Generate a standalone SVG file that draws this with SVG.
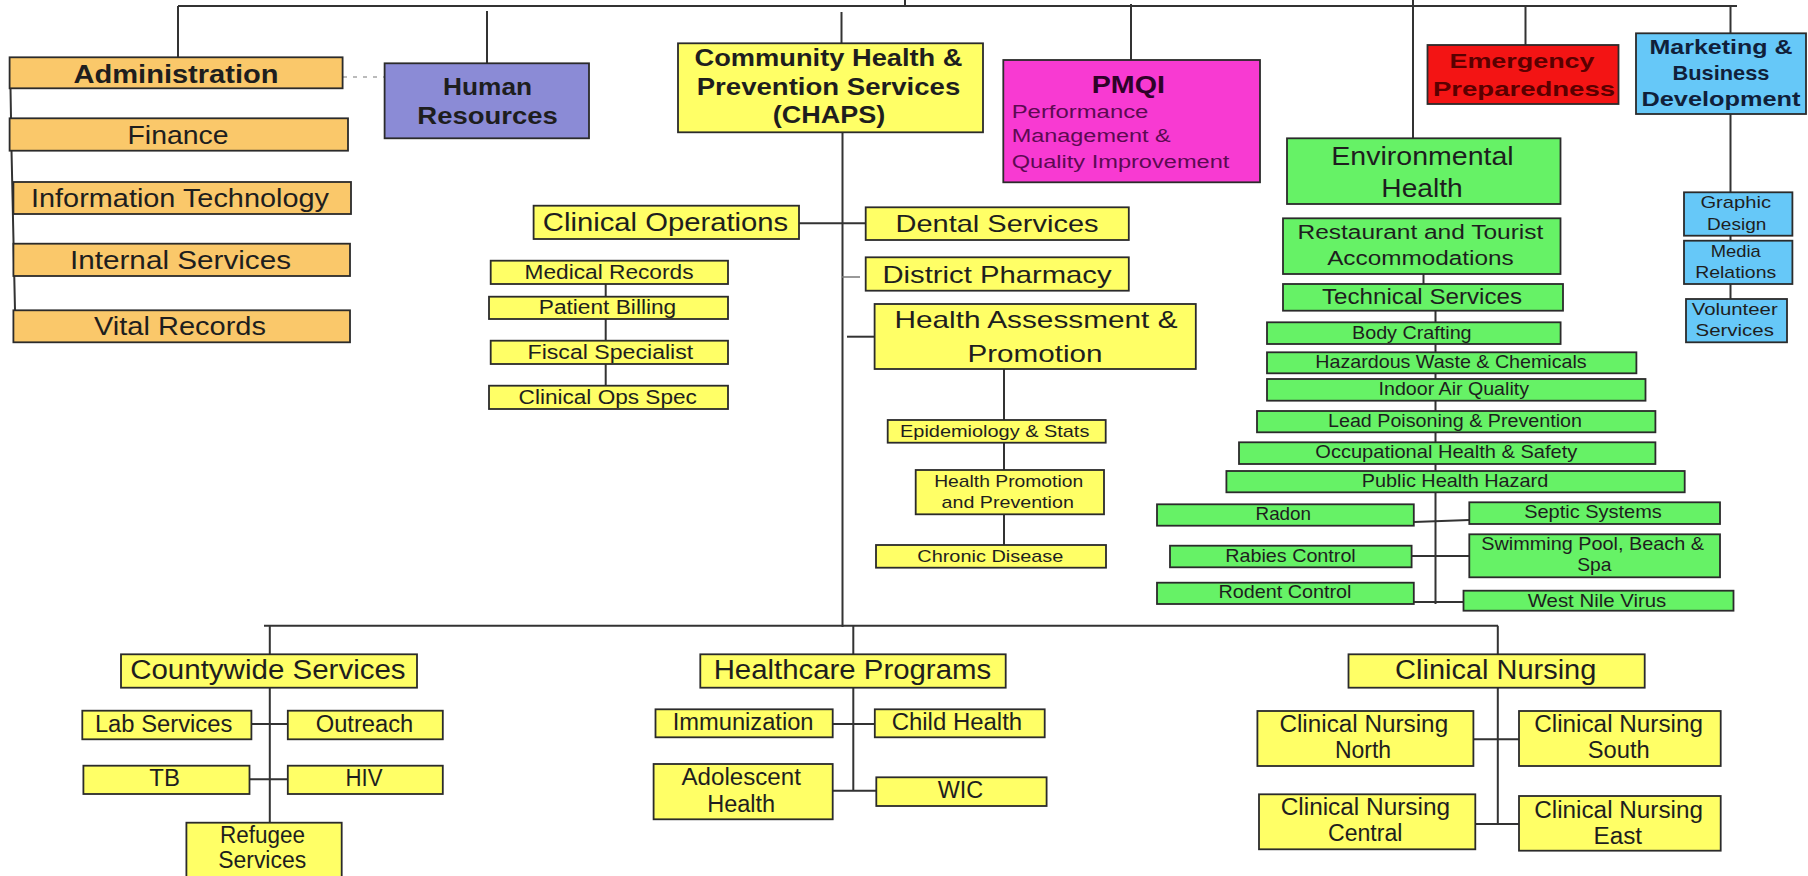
<svg xmlns="http://www.w3.org/2000/svg" width="1808" height="876" viewBox="0 0 1808 876">
<style>
rect{stroke:#2b2b2b;stroke-width:1.8}
.or{fill:#fac86a}.pu{fill:#8b8bd6}.ye{fill:#ffff66}.mg{fill:#f83ad2}.rd{fill:#f31414}.bl{fill:#66c8f8}.gr{fill:#66f266}
text{font-family:"Liberation Sans",Arial,Helvetica,sans-serif;fill:#1e1e1e;text-anchor:middle}
.b{font-weight:bold}
.c line,.c path,.c polyline{stroke:#333;stroke-width:2;fill:none}
</style>
<rect x="0" y="0" width="1808" height="876" fill="#ffffff" style="stroke:none"/>
<g class="c" id="connectors">
<path d="M178,6 H1737"/>
<path d="M905,0 V7"/>
<path d="M178,6 V57"/>
<path d="M487,11 V63"/>
<path d="M841.5,12 V43"/>
<path d="M842.5,132 V627"/>
<path d="M1131,4 V60"/>
<path d="M1413,0 V138"/>
<path d="M1525.5,5 V45"/>
<path d="M1730.5,5 V33"/>
<path d="M1730.5,114 V299"/>
<polyline points="10.5,88 11,118 11.5,150 15,310"/>
<path d="M343,77 H384" style="stroke:#bbbbbb;stroke-width:2;stroke-dasharray:4 6"/>
<path d="M799,223.3 H865.7"/>
<path d="M842,277 H860" style="stroke:#777;stroke-width:1.5"/>
<path d="M847,336.7 H874.6"/>
<path d="M605.7,284 V385.7"/>
<path d="M1004,369 V545"/>
<path d="M1423.5,274 V284"/>
<path d="M1435.5,310.7 V604"/>
<path d="M1413.8,522 L1469.3,520"/>
<path d="M1411.6,556 H1469.3"/>
<path d="M1413.8,602 H1463.5"/>
<path d="M264,625.7 H1498"/>
<path d="M269.8,625.7 V654.3 M269.8,687.7 V822.7"/>
<path d="M251.4,724 H287.8 M249.5,779.3 H287.8"/>
<path d="M853.3,625.7 V654.3 M853.3,687.7 V790.7 M832.7,724 H874.8 M832.7,790.7 H876.3"/>
<path d="M1497.8,625.7 V654.3 M1497.8,687.7 V824 M1473.4,739.3 H1519 M1475.3,824 H1519"/>
</g>

<g id="administration"><rect class="or" x="9.6" y="57.3" width="333" height="31"/><text class="b" x="176" y="83" font-size="25.5" textLength="205" lengthAdjust="spacingAndGlyphs">Administration</text></g>
<g id="finance"><rect class="or" x="9.6" y="118.3" width="338.4" height="32.4"/><text x="178" y="144" font-size="25.5" textLength="101" lengthAdjust="spacingAndGlyphs">Finance</text></g>
<g id="it"><rect class="or" x="13.4" y="182" width="337.6" height="32"/><text x="180" y="207" font-size="25.5" textLength="298" lengthAdjust="spacingAndGlyphs">Information Technology</text></g>
<g id="internal"><rect class="or" x="13.4" y="243.7" width="336.6" height="32.3"/><text x="180.5" y="269" font-size="25.5" textLength="221" lengthAdjust="spacingAndGlyphs">Internal Services</text></g>
<g id="vital"><rect class="or" x="13.4" y="310.3" width="336.6" height="32"/><text x="180" y="335" font-size="25.5" textLength="172" lengthAdjust="spacingAndGlyphs">Vital Records</text></g>

<g id="hr"><rect class="pu" x="384.6" y="63.3" width="204.4" height="75"/><text class="b" x="487.6" y="95" font-size="24.5" textLength="89" lengthAdjust="spacingAndGlyphs">Human</text><text class="b" x="487.6" y="124" font-size="24.5" textLength="140.5" lengthAdjust="spacingAndGlyphs">Resources</text></g>

<g id="chaps"><rect class="ye" x="678" y="43.3" width="305" height="89"/><text class="b" x="828.5" y="66" font-size="24" textLength="268" lengthAdjust="spacingAndGlyphs">Community Health &amp;</text><text class="b" x="828.5" y="95" font-size="24" textLength="263.6" lengthAdjust="spacingAndGlyphs">Prevention Services</text><text class="b" x="829" y="122.5" font-size="24" textLength="112.5" lengthAdjust="spacingAndGlyphs">(CHAPS)</text></g>

<g id="pmqi"><rect class="mg" x="1003.3" y="60" width="256.7" height="122.3"/><text class="b" x="1128.3" y="93.3" font-size="24" textLength="73.3" lengthAdjust="spacingAndGlyphs" style="fill:#2e0228">PMQI</text><text x="1011.7" y="118.3" font-size="17.5" textLength="136.7" lengthAdjust="spacingAndGlyphs" style="fill:#5c0a52;text-anchor:start">Performance</text><text x="1011.7" y="141.7" font-size="17.5" textLength="159" lengthAdjust="spacingAndGlyphs" style="fill:#5c0a52;text-anchor:start">Management &amp;</text><text x="1011.7" y="167.5" font-size="17.5" textLength="217.7" lengthAdjust="spacingAndGlyphs" style="fill:#5c0a52;text-anchor:start">Quality Improvement</text></g>

<g id="emergency"><rect class="rd" x="1427.5" y="45" width="191" height="59"/><text class="b" x="1522" y="68" font-size="21" textLength="145" lengthAdjust="spacingAndGlyphs" style="fill:#5a0000">Emergency</text><text class="b" x="1524" y="95.5" font-size="21" textLength="182" lengthAdjust="spacingAndGlyphs" style="fill:#5a0000">Preparedness</text></g>

<g id="marketing"><rect class="bl" x="1636" y="33.3" width="170" height="80.7"/><text class="b" x="1721" y="54" font-size="21" textLength="143" lengthAdjust="spacingAndGlyphs" style="fill:#10203a">Marketing &amp;</text><text class="b" x="1721" y="80" font-size="21" textLength="97" lengthAdjust="spacingAndGlyphs" style="fill:#10203a">Business</text><text class="b" x="1721" y="105.5" font-size="21" textLength="159" lengthAdjust="spacingAndGlyphs" style="fill:#10203a">Development</text></g>
<g id="graphic"><rect class="bl" x="1684" y="192.3" width="108.4" height="43.4"/><text x="1735.7" y="208.3" font-size="17" textLength="70.6" lengthAdjust="spacingAndGlyphs">Graphic</text><text x="1736.7" y="229.5" font-size="17" textLength="59.2" lengthAdjust="spacingAndGlyphs">Design</text></g>
<g id="media"><rect class="bl" x="1684" y="240.7" width="108.4" height="43.3"/><text x="1735.7" y="256.7" font-size="17" textLength="50" lengthAdjust="spacingAndGlyphs">Media</text><text x="1735.7" y="278.3" font-size="17" textLength="81" lengthAdjust="spacingAndGlyphs">Relations</text></g>
<g id="volunteer"><rect class="bl" x="1686" y="299" width="101" height="43.3"/><text x="1734.7" y="315" font-size="17" textLength="86" lengthAdjust="spacingAndGlyphs">Volunteer</text><text x="1734.7" y="336" font-size="17" textLength="78.3" lengthAdjust="spacingAndGlyphs">Services</text></g>

<g id="clinops"><rect class="ye" x="533.6" y="205.7" width="265.4" height="33.3"/><text x="665.5" y="230.7" font-size="26.5" textLength="245.4" lengthAdjust="spacingAndGlyphs">Clinical Operations</text></g>
<g id="medrec"><rect class="ye" x="490.7" y="260.7" width="237.3" height="23.3"/><text x="609" y="279.3" font-size="20" textLength="169" lengthAdjust="spacingAndGlyphs">Medical Records</text></g>
<g id="billing"><rect class="ye" x="489" y="296.7" width="239" height="22.3"/><text x="607.5" y="314" font-size="20" textLength="137.5" lengthAdjust="spacingAndGlyphs">Patient Billing</text></g>
<g id="fiscal"><rect class="ye" x="490.7" y="340.7" width="237.3" height="23.3"/><text x="610.4" y="359.3" font-size="20" textLength="165.7" lengthAdjust="spacingAndGlyphs">Fiscal Specialist</text></g>
<g id="opsspec"><rect class="ye" x="489" y="385.7" width="239" height="23.3"/><text x="607.7" y="404.3" font-size="20" textLength="178.2" lengthAdjust="spacingAndGlyphs">Clinical Ops Spec</text></g>

<g id="dental"><rect class="ye" x="865.7" y="207.3" width="263.1" height="32.7"/><text x="997" y="232" font-size="24" textLength="203" lengthAdjust="spacingAndGlyphs">Dental Services</text></g>
<g id="pharmacy"><rect class="ye" x="865.7" y="257.3" width="263.1" height="33.4"/><text x="997" y="283" font-size="24" textLength="229" lengthAdjust="spacingAndGlyphs">District Pharmacy</text></g>
<g id="healthassess"><rect class="ye" x="874.6" y="304" width="321.2" height="65"/><text x="1036" y="328.3" font-size="24" textLength="283" lengthAdjust="spacingAndGlyphs">Health Assessment &amp;</text><text x="1035" y="361.7" font-size="24" textLength="135" lengthAdjust="spacingAndGlyphs">Promotion</text></g>
<g id="epi"><rect class="ye" x="887.7" y="420" width="218" height="22.7"/><text x="994.7" y="436.7" font-size="17" textLength="189.3" lengthAdjust="spacingAndGlyphs">Epidemiology &amp; Stats</text></g>
<g id="healthpromo"><rect class="ye" x="915.7" y="470" width="188.3" height="44.3"/><text x="1008.7" y="486.7" font-size="17" textLength="149" lengthAdjust="spacingAndGlyphs">Health Promotion</text><text x="1007.7" y="508.3" font-size="17" textLength="132.3" lengthAdjust="spacingAndGlyphs">and Prevention</text></g>
<g id="chronic"><rect class="ye" x="876" y="545" width="230" height="22.7"/><text x="990.3" y="561.7" font-size="17" textLength="146" lengthAdjust="spacingAndGlyphs">Chronic Disease</text></g>

<g id="envhealth"><rect class="gr" x="1287" y="138.3" width="273.5" height="65.7"/><text x="1422.5" y="165" font-size="25.5" textLength="182.4" lengthAdjust="spacingAndGlyphs">Environmental</text><text x="1422" y="196.7" font-size="25.5" textLength="81.4" lengthAdjust="spacingAndGlyphs">Health</text></g>
<g id="restaurant"><rect class="gr" x="1283" y="218.3" width="277.5" height="55.7"/><text x="1420.4" y="239.3" font-size="20" textLength="245.7" lengthAdjust="spacingAndGlyphs">Restaurant and Tourist</text><text x="1420.4" y="265" font-size="20" textLength="186.5" lengthAdjust="spacingAndGlyphs">Accommodations</text></g>
<g id="technical"><rect class="gr" x="1283" y="284" width="280" height="26.7"/><text x="1422" y="304" font-size="21.5" textLength="200" lengthAdjust="spacingAndGlyphs">Technical Services</text></g>
<g id="body"><rect class="gr" x="1267" y="322.3" width="293.6" height="21.7"/><text x="1411.8" y="338.5" font-size="18.6" textLength="119.6" lengthAdjust="spacingAndGlyphs">Body Crafting</text></g>
<g id="hazard"><rect class="gr" x="1267" y="352.3" width="369.4" height="21"/><text x="1451" y="368.3" font-size="18.6" textLength="271.3" lengthAdjust="spacingAndGlyphs">Hazardous Waste &amp; Chemicals</text></g>
<g id="indoor"><rect class="gr" x="1267" y="379" width="378.5" height="21.7"/><text x="1453.8" y="395" font-size="18.6" textLength="150.4" lengthAdjust="spacingAndGlyphs">Indoor Air Quality</text></g>
<g id="lead"><rect class="gr" x="1257" y="411" width="398.4" height="21.3"/><text x="1455" y="426.7" font-size="18" textLength="254" lengthAdjust="spacingAndGlyphs">Lead Poisoning &amp; Prevention</text></g>
<g id="occupational"><rect class="gr" x="1239" y="442.3" width="416.4" height="21.7"/><text x="1446.3" y="458.3" font-size="18.6" textLength="262" lengthAdjust="spacingAndGlyphs">Occupational Health &amp; Safety</text></g>
<g id="publichazard"><rect class="gr" x="1226.4" y="471" width="458.3" height="21.3"/><text x="1455" y="486.7" font-size="18.6" textLength="186.5" lengthAdjust="spacingAndGlyphs">Public Health Hazard</text></g>
<g id="radon"><rect class="gr" x="1157" y="504.3" width="256.8" height="21.4"/><text x="1283.3" y="520" font-size="18.6" textLength="55.5" lengthAdjust="spacingAndGlyphs">Radon</text></g>
<g id="septic"><rect class="gr" x="1469.3" y="502.3" width="250.7" height="21.7"/><text x="1593" y="518.3" font-size="18.6" textLength="137.7" lengthAdjust="spacingAndGlyphs">Septic Systems</text></g>
<g id="rabies"><rect class="gr" x="1170" y="545.7" width="241.6" height="21.6"/><text x="1290.5" y="561.7" font-size="18.6" textLength="130.5" lengthAdjust="spacingAndGlyphs">Rabies Control</text></g>
<g id="swimming"><rect class="gr" x="1469.3" y="534.3" width="250.7" height="43"/><text x="1592.6" y="550" font-size="18.6" textLength="222.6" lengthAdjust="spacingAndGlyphs">Swimming Pool, Beach &amp;</text><text x="1594.4" y="570.5" font-size="18.6" textLength="34.3" lengthAdjust="spacingAndGlyphs">Spa</text></g>
<g id="rodent"><rect class="gr" x="1157" y="582.7" width="256.8" height="21.3"/><text x="1285" y="598.3" font-size="18.6" textLength="133" lengthAdjust="spacingAndGlyphs">Rodent Control</text></g>
<g id="westnile"><rect class="gr" x="1463.5" y="590.7" width="270" height="20"/><text x="1597" y="606.5" font-size="18.6" textLength="138.6" lengthAdjust="spacingAndGlyphs">West Nile Virus</text></g>

<g id="countywide"><rect class="ye" x="121" y="654.3" width="296" height="33.4"/><text x="267.9" y="679.3" font-size="27" textLength="275.5" lengthAdjust="spacingAndGlyphs">Countywide Services</text></g>
<g id="lab"><rect class="ye" x="82.3" y="710.7" width="169.1" height="28.6"/><text x="163.6" y="731.7" font-size="23" textLength="137.4" lengthAdjust="spacingAndGlyphs">Lab Services</text></g>
<g id="outreach"><rect class="ye" x="287.8" y="710.7" width="155" height="28.6"/><text x="364.5" y="731.7" font-size="23" textLength="97.6" lengthAdjust="spacingAndGlyphs">Outreach</text></g>
<g id="tb"><rect class="ye" x="83.4" y="765.7" width="166.1" height="28.3"/><text x="164.6" y="786" font-size="23" textLength="30.6" lengthAdjust="spacingAndGlyphs">TB</text></g>
<g id="hiv"><rect class="ye" x="287.8" y="765.7" width="155" height="28.3"/><text x="364" y="786" font-size="23" textLength="37" lengthAdjust="spacingAndGlyphs">HIV</text></g>
<g id="refugee"><rect class="ye" x="186.4" y="822.7" width="155.3" height="60"/><text x="262.5" y="842.7" font-size="23" textLength="85" lengthAdjust="spacingAndGlyphs">Refugee</text><text x="262.2" y="868.3" font-size="23" textLength="88" lengthAdjust="spacingAndGlyphs">Services</text></g>

<g id="healthcare"><rect class="ye" x="700.3" y="654.3" width="305.4" height="33.4"/><text x="852.4" y="679.3" font-size="27" textLength="277.5" lengthAdjust="spacingAndGlyphs">Healthcare Programs</text></g>
<g id="immunization"><rect class="ye" x="655.5" y="709.3" width="177.2" height="28"/><text x="743.1" y="730" font-size="23" textLength="140.8" lengthAdjust="spacingAndGlyphs">Immunization</text></g>
<g id="childhealth"><rect class="ye" x="874.8" y="709.3" width="169.9" height="28"/><text x="956.9" y="730" font-size="23" textLength="130.5" lengthAdjust="spacingAndGlyphs">Child Health</text></g>
<g id="adolescent"><rect class="ye" x="653.6" y="764" width="179.1" height="55.3"/><text x="741.2" y="785" font-size="23" textLength="119.4" lengthAdjust="spacingAndGlyphs">Adolescent</text><text x="741.2" y="811.7" font-size="23" textLength="68" lengthAdjust="spacingAndGlyphs">Health</text></g>
<g id="wic"><rect class="ye" x="876.3" y="777.3" width="170.3" height="28.7"/><text x="960.5" y="798.3" font-size="23" textLength="45.5" lengthAdjust="spacingAndGlyphs">WIC</text></g>

<g id="clinnursing"><rect class="ye" x="1348.5" y="654.3" width="296.2" height="33.4"/><text x="1495.7" y="679.3" font-size="27" textLength="201.2" lengthAdjust="spacingAndGlyphs">Clinical Nursing</text></g>
<g id="cnnorth"><rect class="ye" x="1257.4" y="711" width="216" height="55"/><text x="1363.8" y="732.3" font-size="23" textLength="168.7" lengthAdjust="spacingAndGlyphs">Clinical Nursing</text><text x="1363" y="758.3" font-size="23" textLength="56.2" lengthAdjust="spacingAndGlyphs">North</text></g>
<g id="cnsouth"><rect class="ye" x="1519" y="711" width="201.7" height="55"/><text x="1618.6" y="732.3" font-size="23" textLength="168.7" lengthAdjust="spacingAndGlyphs">Clinical Nursing</text><text x="1618.8" y="758.3" font-size="23" textLength="62" lengthAdjust="spacingAndGlyphs">South</text></g>
<g id="cncentral"><rect class="ye" x="1259" y="794.3" width="216.3" height="55"/><text x="1365.4" y="815" font-size="23" textLength="169.4" lengthAdjust="spacingAndGlyphs">Clinical Nursing</text><text x="1365.2" y="840.7" font-size="23" textLength="74.4" lengthAdjust="spacingAndGlyphs">Central</text></g>
<g id="cneast"><rect class="ye" x="1519" y="796" width="201.7" height="54.7"/><text x="1618.6" y="818.3" font-size="23" textLength="168.7" lengthAdjust="spacingAndGlyphs">Clinical Nursing</text><text x="1617.8" y="844" font-size="23" textLength="48.5" lengthAdjust="spacingAndGlyphs">East</text></g>
</svg>
